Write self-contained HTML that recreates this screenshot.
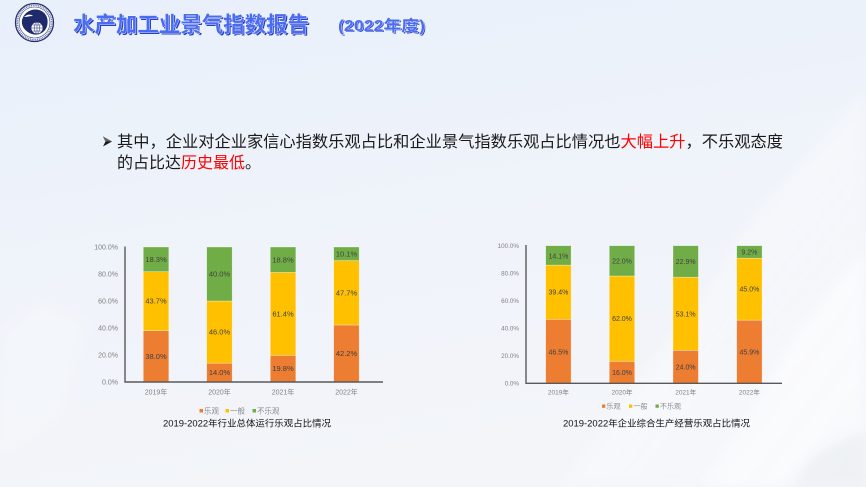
<!DOCTYPE html>
<html><head><meta charset="utf-8">
<style>
html,body{margin:0;padding:0;}
body{width:866px;height:487px;overflow:hidden;background:#eef3fa;}
svg{display:block;}
text{font-family:"Liberation Sans","Noto Sans CJK SC",sans-serif;}
</style></head>
<body>
<svg width="866" height="487" viewBox="0 0 866 487" xmlns="http://www.w3.org/2000/svg">
<defs>
<linearGradient id="bg" x1="0" y1="0" x2="0.3" y2="1">
<stop offset="0" stop-color="#e8f0fb"/>
<stop offset="0.5" stop-color="#eff3fa"/>
<stop offset="1" stop-color="#f3f5f9"/>
</linearGradient>
<linearGradient id="mt" x1="0" y1="0" x2="1" y2="1">
<stop offset="0" stop-color="#ffffff" stop-opacity="0.9"/>
<stop offset="1" stop-color="#f6f7fa" stop-opacity="0.7"/>
</linearGradient>
<filter id="blur" x="-10%" y="-10%" width="120%" height="120%"><feGaussianBlur stdDeviation="6"/></filter>
</defs>
<rect width="866" height="487" fill="url(#bg)"/>
<!-- faint mountain on right -->
<g filter="url(#blur)">
<path d="M560 487 L640 380 L700 300 L760 210 L820 140 L866 90 L866 487 Z" fill="url(#mt)" opacity="0.6"/>
<path d="M700 487 L760 400 L800 330 L840 280 L866 250 L866 487 Z" fill="#ffffff" opacity="0.45"/>
<path d="M790 487 L815 455 L840 440 L866 432 L866 487 Z" fill="#e4e7ed" opacity="0.5"/>
<path d="M0 330 L40 300 L90 320 L60 420 L0 460 Z" fill="#ffffff" opacity="0.2"/>
</g>

<!-- logo -->
<g>
<circle cx="34.5" cy="22.5" r="19" fill="#ffffff" stroke="#24306f" stroke-width="1.3"/>
<circle cx="34.5" cy="22.5" r="15.5" fill="none" stroke="#24306f" stroke-width="0.6"/>
<circle cx="34.5" cy="22.5" r="17.2" fill="none" stroke="#6a74a8" stroke-width="1.6" stroke-dasharray="1 0.8"/>
<path d="M22 20 C24 12 32 8 39 10 C46 12 49 19 47 26 C45 33 38 36 32 34 C26 32 21 27 22 20 Z" fill="#1f2a6b"/>
<path d="M24 17 C27 14 31 14 33 16 C30 16 27 17 24 17 Z" fill="#ffffff"/>
<circle cx="37" cy="28" r="6" fill="#ffffff" stroke="#1f2a6b" stroke-width="0.7"/>
<path d="M31 28 H43 M37 22 V34 M32.5 25 H41.5 M32.5 31 H41.5" stroke="#1f2a6b" stroke-width="0.5"/>
<ellipse cx="37" cy="28" rx="2.5" ry="6" fill="none" stroke="#1f2a6b" stroke-width="0.5"/>
</g>

<!-- title -->
<g font-weight="bold">
<text x="73" y="32" font-size="21.5" fill="#2a3fc0" textLength="236" lengthAdjust="spacingAndGlyphs" transform="translate(1.5,1.5)">水产加工业景气指数报告</text>
<text x="73" y="32" font-size="21.5" fill="#4a6cf2" stroke="#ffffff" stroke-width="0.8" paint-order="stroke" textLength="236" lengthAdjust="spacingAndGlyphs">水产加工业景气指数报告</text>
<text x="338" y="31" font-size="15.5" fill="#2a3fc0" textLength="87" lengthAdjust="spacingAndGlyphs" transform="translate(1.2,1.2)">(2022年度)</text>
<text x="338" y="31" font-size="15.5" fill="#4a6cf2" stroke="#ffffff" stroke-width="0.7" paint-order="stroke" textLength="87" lengthAdjust="spacingAndGlyphs">(2022年度)</text>
</g>

<!-- body text -->
<path d="M103 136.5 L112 141.5 L103 146.5 L105.5 141.5 Z" fill="#1a1a1a"/>
<path d="M103 136.5 L112 141.5 L105.5 141.5 Z" fill="#666"/>
<text x="117" y="147" font-size="16" fill="#1a1a1a" textLength="666" lengthAdjust="spacingAndGlyphs">其中，企业对企业家信心指数乐观占比和企业景气指数乐观占比情况也<tspan fill="#ff0000">大幅上升</tspan>，不乐观态度</text>
<text x="117" y="168" font-size="16" fill="#1a1a1a">的占比达<tspan fill="#ff0000">历史最低</tspan>。</text>

<!-- Chart 1 -->
<g font-size="7" fill="#7f7f7f" text-anchor="end">
<text x="118" y="249.5">100.0%</text>
<text x="118" y="276.5">80.0%</text>
<text x="118" y="303.5">60.0%</text>
<text x="118" y="330.5">40.0%</text>
<text x="118" y="357.5">20.0%</text>
<text x="118" y="384.5">0.0%</text>
</g>
<g stroke="#ffffff" stroke-opacity="0.5" stroke-width="0.6">
<rect x="143.3" y="330.7" width="25.5" height="51.3" fill="#ed7d31"/>
<rect x="143.3" y="271.7" width="25.5" height="59" fill="#ffc000"/>
<rect x="143.3" y="247" width="25.5" height="24.7" fill="#70ad47"/>
<rect x="206.7" y="363.1" width="25.5" height="18.9" fill="#ed7d31"/>
<rect x="206.7" y="301" width="25.5" height="62.1" fill="#ffc000"/>
<rect x="206.7" y="247" width="25.5" height="54" fill="#70ad47"/>
<rect x="270.3" y="355.3" width="25.5" height="26.7" fill="#ed7d31"/>
<rect x="270.3" y="272.4" width="25.5" height="82.9" fill="#ffc000"/>
<rect x="270.3" y="247" width="25.5" height="25.4" fill="#70ad47"/>
<rect x="333.7" y="325" width="25.5" height="57" fill="#ed7d31"/>
<rect x="333.7" y="260.6" width="25.5" height="64.4" fill="#ffc000"/>
<rect x="333.7" y="247" width="25.5" height="13.6" fill="#70ad47"/>
</g>
<path d="M125 246.5 V382 H383" fill="none" stroke="#595959" stroke-width="1.4"/>
<g font-size="7.5" fill="#404040" text-anchor="middle">
<text x="156" y="359">38.0%</text>
<text x="156" y="303.7">43.7%</text>
<text x="156" y="261.8">18.3%</text>
<text x="219.5" y="375">14.0%</text>
<text x="219.5" y="334.5">46.0%</text>
<text x="219.5" y="276.5">40.0%</text>
<text x="283" y="371">19.8%</text>
<text x="283" y="316.5">61.4%</text>
<text x="283" y="262.3">18.8%</text>
<text x="346.5" y="356">42.2%</text>
<text x="346.5" y="295.3">47.7%</text>
<text x="346.5" y="256.5">10.1%</text>
</g>
<g font-size="7" fill="#7f7f7f" text-anchor="middle">
<text x="156" y="394.5">2019年</text>
<text x="219.5" y="394.5">2020年</text>
<text x="283" y="394.5">2021年</text>
<text x="346.5" y="394.5">2022年</text>
</g>
<g font-size="7.5" fill="#8a8a8a">
<rect x="199.5" y="409" width="3.5" height="3.5" fill="#ed7d31"/><text x="204" y="413.5">乐观</text>
<rect x="225.5" y="409" width="3.5" height="3.5" fill="#ffc000"/><text x="230" y="413.5">一般</text>
<rect x="252.5" y="409" width="3.5" height="3.5" fill="#70ad47"/><text x="257" y="413.5">不乐观</text>
</g>
<text x="163" y="426.5" font-size="9.3" fill="#111" textLength="168" lengthAdjust="spacingAndGlyphs">2019-2022年行业总体运行乐观占比情况</text>

<!-- Chart 2 -->
<g font-size="6.3" fill="#7f7f7f" text-anchor="end">
<text x="519" y="248">100.0%</text>
<text x="519" y="275.5">80.0%</text>
<text x="519" y="303">60.0%</text>
<text x="519" y="330.5">40.0%</text>
<text x="519" y="358">20.0%</text>
<text x="519" y="385.5">0.0%</text>
</g>
<g stroke="#ffffff" stroke-opacity="0.5" stroke-width="0.6">
<rect x="545.7" y="319.3" width="25.4" height="64" fill="#ed7d31"/>
<rect x="545.7" y="265.1" width="25.4" height="54.2" fill="#ffc000"/>
<rect x="545.7" y="245.7" width="25.4" height="19.4" fill="#70ad47"/>
<rect x="609.3" y="361.3" width="25.4" height="22" fill="#ed7d31"/>
<rect x="609.3" y="276" width="25.4" height="85.3" fill="#ffc000"/>
<rect x="609.3" y="245.7" width="25.4" height="30.3" fill="#70ad47"/>
<rect x="673" y="350.3" width="25.4" height="33" fill="#ed7d31"/>
<rect x="673" y="277.2" width="25.4" height="73.1" fill="#ffc000"/>
<rect x="673" y="245.7" width="25.4" height="31.5" fill="#70ad47"/>
<rect x="736.7" y="320.1" width="25.4" height="63.2" fill="#ed7d31"/>
<rect x="736.7" y="258.2" width="25.4" height="61.9" fill="#ffc000"/>
<rect x="736.7" y="245.7" width="25.4" height="12.5" fill="#70ad47"/>
</g>
<path d="M526 245 V383.3 H782" fill="none" stroke="#595959" stroke-width="1.4"/>
<g font-size="7" fill="#404040" text-anchor="middle">
<text x="558.4" y="354.3">46.5%</text>
<text x="558.4" y="294.7">39.4%</text>
<text x="558.4" y="258.5">14.1%</text>
<text x="622" y="374.8">16.0%</text>
<text x="622" y="321">62.0%</text>
<text x="622" y="263.5">22.0%</text>
<text x="685.7" y="369.3">24.0%</text>
<text x="685.7" y="316.3">53.1%</text>
<text x="685.7" y="264">22.9%</text>
<text x="749.4" y="354.3">45.9%</text>
<text x="749.4" y="291.5">45.0%</text>
<text x="749.4" y="254.5">9.2%</text>
</g>
<g font-size="6.5" fill="#7f7f7f" text-anchor="middle">
<text x="558.4" y="394.5">2019年</text>
<text x="622" y="394.5">2020年</text>
<text x="685.7" y="394.5">2021年</text>
<text x="749.4" y="394.5">2022年</text>
</g>
<g font-size="7" fill="#8a8a8a">
<rect x="602" y="404.5" width="3.3" height="3.3" fill="#ed7d31"/><text x="606.5" y="408.5">乐观</text>
<rect x="629" y="404.5" width="3.3" height="3.3" fill="#ffc000"/><text x="633.5" y="408.5">一般</text>
<rect x="655.5" y="404.5" width="3.3" height="3.3" fill="#70ad47"/><text x="660" y="408.5">不乐观</text>
</g>
<text x="563" y="426.5" font-size="9.3" fill="#111" textLength="187" lengthAdjust="spacingAndGlyphs">2019-2022年企业综合生产经营乐观占比情况</text>
</svg>
</body></html>
